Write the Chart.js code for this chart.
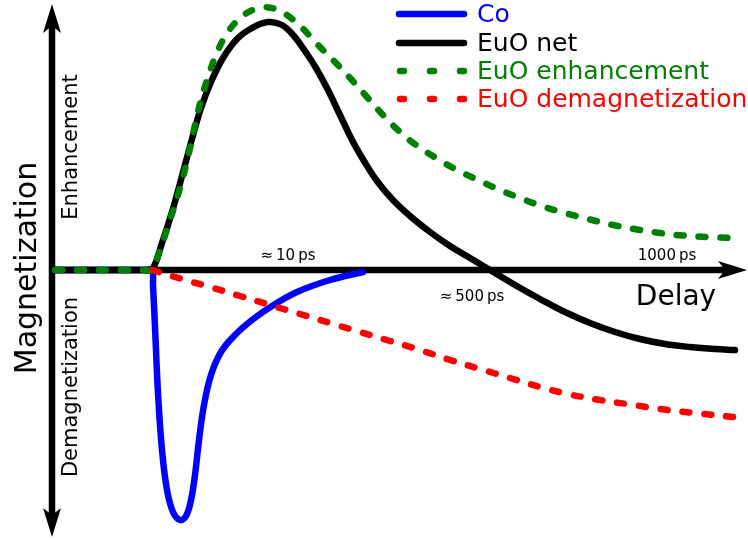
<!DOCTYPE html>
<html>
<head>
<meta charset="utf-8">
<script src="https://cdn.jsdelivr.net/npm/chart.js@4/dist/chart.umd.min.js"></script>
<style>
  html, body { margin: 0; padding: 0; background: #fff; }
  #wrap { width: 748px; height: 540px; position: relative; }
</style>
</head>
<body>
<div id="wrap"><canvas id="chart"></canvas></div>
<script>
// Schematic: magnetization vs delay (arbitrary units)
const coX = [3, 93, 100, 101, 103, 106, 110, 115, 121, 128, 134, 139, 143, 147, 152, 159, 169, 183, 200, 220, 245, 278, 311];
const coY = [0, 0, 0, -15, -57, -123, -180, -220, -242, -250, -246, -230, -205, -170, -135, -105, -82, -65, -50, -36, -22, -10, -2];

const netX = [3, 93, 100, 110, 120, 130, 140, 149, 159, 171, 185, 200, 216, 230, 242, 253, 264, 276, 288, 300, 312, 325, 340, 358, 378, 398, 418, 438, 463, 488, 513, 538, 563, 588, 613, 638, 663, 683];
const netY = [0, 0, 0, 27, 58, 94, 131, 162, 188, 212, 231, 242, 248, 245, 234, 219, 202, 180, 155, 130, 109, 89, 71, 54, 38, 24, 12, 0, -15, -29, -42, -53, -62, -69, -74, -77, -79, -80];

const enhX = [3, 93, 100, 108, 118, 128, 136, 143, 149, 156, 164, 174, 188, 203, 213, 228, 246, 266, 283, 299, 315, 331, 347, 364, 384, 405, 428, 448, 468, 491, 515, 538, 561, 585, 608, 631, 655, 681];
const enhY = [0, 0, 0, 20, 50, 82, 113, 145, 170, 193, 215, 235, 252, 261, 263, 259, 246, 225, 208, 191, 173, 155, 139, 125, 112, 100, 89, 80, 72, 63.5, 56.5, 50.5, 45, 40.5, 37, 34.5, 33, 32];

const demX = [100, 128, 158, 188, 218, 248, 278, 308, 338, 368, 398, 428, 458, 488, 518, 548, 578, 608, 638, 681];
const demY = [0, -8.5, -17, -26, -35, -44, -53, -62, -71, -80, -90, -99, -108, -117, -124.5, -130, -134.5, -139, -142.5, -147];

const seriesNames = ['Co', 'EuO net', 'EuO enhancement', 'EuO demagnetization'];

function pts(xs, ys) {
    return xs.map((x, i) => ({ x: x, y: ys[i] }));
}

const FONT = '"DejaVu Sans", Verdana, sans-serif';
const LW = 6.5;

function arrowHead(ctx, tipX, tipY, dx, dy) {
    // dx,dy = unit direction the arrow points to
    const len = 29, half = 9, notch = 7;
    const px = -dy, py = dx;
    ctx.beginPath();
    ctx.moveTo(tipX, tipY);
    ctx.lineTo(tipX - dx * len + px * half, tipY - dy * len + py * half);
    ctx.lineTo(tipX - dx * (len - notch), tipY - dy * (len - notch));
    ctx.lineTo(tipX - dx * len - px * half, tipY - dy * len - py * half);
    ctx.closePath();
    ctx.fill();
}

const axesPlugin = {
    id: 'schematicAxes',
    beforeDatasetsDraw(chart) {
        const ctx = chart.ctx;
        const x0 = chart.scales.x.getPixelForValue(0);
        const y0 = chart.scales.y.getPixelForValue(0);
        ctx.save();
        ctx.strokeStyle = '#000';
        ctx.fillStyle = '#000';
        ctx.lineWidth = LW;
        ctx.lineCap = 'butt';
        // vertical axis, arrows at both ends
        const top = 4, bottom = 537;
        ctx.beginPath();
        ctx.moveTo(x0, top + 20);
        ctx.lineTo(x0, bottom - 20);
        ctx.stroke();
        arrowHead(ctx, x0, top, 0, -1);
        arrowHead(ctx, x0, bottom, 0, 1);
        // horizontal axis
        const right = 747;
        ctx.beginPath();
        ctx.moveTo(x0 - 3, y0);
        ctx.lineTo(right - 20, y0);
        ctx.stroke();
        arrowHead(ctx, right, y0, 1, 0);
        ctx.restore();
    },
    afterDraw(chart) {
        const ctx = chart.ctx;
        ctx.save();
        ctx.fillStyle = '#000';
        ctx.textAlign = 'center';
        ctx.textBaseline = 'middle';

        const rot = (txt, x, y, size) => {
            ctx.save();
            ctx.translate(x, y);
            ctx.rotate(-Math.PI / 2);
            ctx.font = size + 'px ' + FONT;
            ctx.fillText(txt, 0, 0);
            ctx.restore();
        };
        rot('Magnetization', 28, 268, 30);
        rot('Enhancement', 72, 147, 21);
        rot('Demagnetization', 72, 387, 21);

        ctx.font = '28px ' + FONT;
        ctx.textBaseline = 'alphabetic';
        ctx.fillText('Delay', 676, 305);

        ctx.font = '15px ' + FONT;
        ctx.fillText('\u2248\u200910\u2009ps', 288, 260);
        ctx.fillText('\u2248\u2009500\u2009ps', 472, 301);
        ctx.fillText('1000\u2009ps', 667, 260);

        // legend
        const rows = [14, 43, 71, 99];
        ctx.textAlign = 'left';
        ctx.textBaseline = 'middle';
        ctx.font = '25px ' + FONT;
        chart.data.datasets.forEach((ds, i) => {
            const y = rows[i];
            ctx.save();
            ctx.strokeStyle = ds.borderColor;
            ctx.lineWidth = LW;
            ctx.lineCap = 'round';
            ctx.beginPath();
            if (ds.borderDash && ds.borderDash.length) {
                ctx.setLineDash([4, 26]);
                ctx.moveTo(400, y);
                ctx.lineTo(466, y);
            } else {
                ctx.moveTo(399, y);
                ctx.lineTo(464, y);
            }
            ctx.stroke();
            ctx.restore();
            ctx.fillStyle = ds.borderColor;
            ctx.fillText(ds.label, 477, y + 1);
        });
        ctx.restore();
    }
};

const lineBase = {
    borderWidth: LW,
    pointRadius: 0,
    fill: false,
    tension: 0.4,
    borderCapStyle: 'round',
    borderJoinStyle: 'round'
};

new Chart(document.getElementById('chart'), {
    type: 'line',
    data: {
        datasets: [
            Object.assign({}, lineBase, {
                label: seriesNames[0],
                data: pts(coX, coY),
                borderColor: '#0000ff',
                order: 4
            }),
            Object.assign({}, lineBase, {
                label: seriesNames[1],
                data: pts(netX, netY),
                borderColor: '#000000',
                order: 3
            }),
            Object.assign({}, lineBase, {
                label: seriesNames[2],
                data: pts(enhX, enhY),
                borderColor: '#008000',
                borderDash: [7, 15],
                order: 2
            }),
            Object.assign({}, lineBase, {
                label: seriesNames[3],
                data: pts(demX, demY),
                borderColor: '#ff0000',
                borderDash: [7, 15],
                order: 1
            })
        ]
    },
    options: {
        responsive: true,
        maintainAspectRatio: false,
        animation: false,
        layout: { padding: 0 },
        plugins: {
            legend: { display: false },
            tooltip: { enabled: false }
        },
        scales: {
            x: { type: 'linear', min: -52, max: 696, display: false },
            y: { type: 'linear', min: -270, max: 270, display: false }
        }
    },
    plugins: [axesPlugin]
});
</script>
</body>
</html>
